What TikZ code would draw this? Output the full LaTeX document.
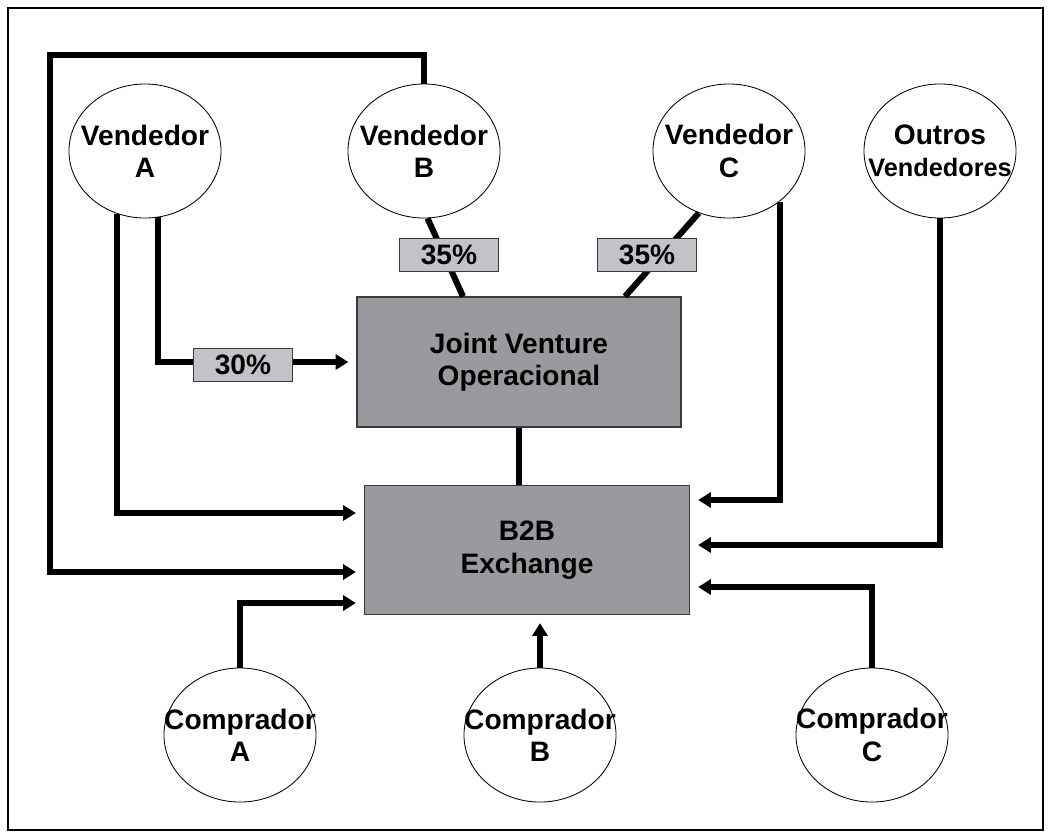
\documentclass[tikz,border=0pt]{standalone}
\usepackage{fontspec}
\setmainfont{Liberation Sans}
\usetikzlibrary{positioning, shapes.geometric, arrows.meta}

\definecolor{boxgray}{HTML}{999A9E}
\definecolor{taggray}{HTML}{C2C3C7}
\definecolor{edgegray}{HTML}{3A3A3A}

\begin{document}
\begin{tikzpicture}[x=0.025cm, y=-0.025cm,
    font=\bfseries\fontsize{20}{23}\selectfont,
    party/.style={ellipse, draw, line width=0.6pt, fill=white, inner sep=0pt, minimum width=3.8cm, minimum height=3.35cm, label={[align=center]center:#1}},
    block/.style={rectangle, draw=edgegray, line width=0.8pt, fill=boxgray, align=center},
    share/.style={rectangle, draw=edgegray, line width=0.8pt, fill=taggray, minimum width=2.475cm, minimum height=0.83cm, inner sep=0pt},
    link/.style={line width=4.3pt},
    feed/.style={line width=4.3pt, -{Triangle[length=9pt, width=10.5pt]}, shorten >=0.2cm}]

\useasboundingbox (0,0) rectangle (1051,838);
\draw[line width=2pt] (8,8) rectangle (1043,830);

\node[party={Vendedor\\A}] (vendA) at (145,151) {};
\node[party={Vendedor\\B}] (vendB) at (424,151) {};
\node[party={Vendedor\\C}] (vendC) at (729,151) {};
\node[party={Outros\\{\fontsize{18}{20}\selectfont Vendedores}}] (outros) at (940,151) {};

\node[block, minimum width=8.1cm, minimum height=3.25cm] (jv) at (519,362) {Joint Venture\\Operacional};
\node[block, minimum width=8.125cm, minimum height=3.225cm] (b2b) at (527,550) {B2B\\Exchange};

\node[party={Comprador\\A}] (compA) at (240,735) {};
\node[party={Comprador\\B}] (compB) at (540,735) {};
\node[party={Comprador\\C}] (compC) at (872,735) {};

    % ownership of the joint venture
    \draw [feed] (vendA.-79) |- (jv.west);
    \draw [link] (vendB.-87) -- ([xshift=-1.4cm]jv.north);
    \draw [link] (vendC.-116) -- ([xshift=2.65cm]jv.north);
    \draw [link] (jv.south) -- (jv.south |- b2b.north);

    % sellers into the exchange
    \coordinate (loopNW) at (50,55);
    \draw [feed] (vendA.-114) |- ([yshift=0.925cm]b2b.west);
    \draw [feed] (vendB.north) |- (loopNW) |- ([yshift=-0.55cm]b2b.west);
    \draw [feed] (vendC.-45) |- ([yshift=1.25cm]b2b.east);
    \draw [feed] (outros.south) |- ([yshift=0.125cm]b2b.east);

    % buyers into the exchange
    \draw [feed] (compA.north) |- ([yshift=-1.325cm]b2b.west);
    \draw [feed] (compB.north) -- (compB.north |- b2b.south);
    \draw [feed] (compC.north) |- ([yshift=-0.925cm]b2b.east);

\node[share] (shareA) at (243,365) {30\%};
\node[share] (shareB) at (449,255) {35\%};
\node[share] (shareC) at (647,255) {35\%};

\end{tikzpicture}
\end{document}
